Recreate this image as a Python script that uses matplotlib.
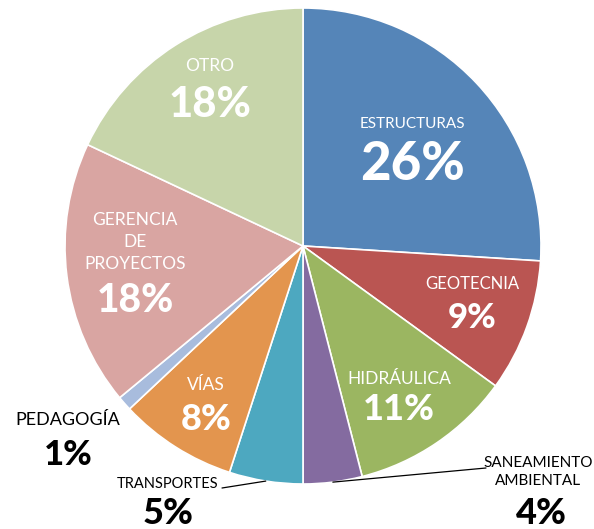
import matplotlib.pyplot as plt
import numpy as np

plt.rcParams['font.family'] = ['Lato', 'DejaVu Sans']

categorias = ['ESTRUCTURAS', 'GEOTECNIA', 'HIDRÁULICA', 'SANEAMIENTO\nAMBIENTAL',
              'TRANSPORTES', 'VÍAS', 'PEDAGOGÍA', 'GERENCIA\nDE\nPROYECTOS', 'OTRO']
porcentajes = [26, 9, 11, 4, 5, 8, 1, 18, 18]
colores = ['#5585B8', '#BA5552', '#9BB661', '#846BA0', '#4DA8C0',
           '#E3954E', '#A8BCDD', '#D9A5A2', '#C7D5AA']

fig = plt.figure(figsize=(5.94, 5.29), dpi=100)
ax = fig.add_axes([65 / 594, (529 - 246 - 238) / 529, 476 / 594, 476 / 529])

wedges, _ = ax.pie(porcentajes, colors=colores, startangle=90, counterclock=False,
                   radius=1, wedgeprops=dict(edgecolor='white', linewidth=1.2))
ax.set_xlim(-1, 1)
ax.set_ylim(-1, 1)
ax.axis('off')


def pos(px, py):
    # pixel position in the figure -> data coords of the pie
    return (px - 303) / 238, (246 - py) / 238


# (name px, name py, pct px, pct py, name size, pct size, colour)
etiquetas = [
    (412, 124, 412, 165, 11, 38, 'white'),
    (472, 284, 472, 318, 12, 25, 'white'),
    (399, 379, 399, 410, 12.5, 26, 'white'),
    (538, 472, 541, 514, 11, 26, 'black'),
    (168, 484, 168, 514, 10.5, 26, 'black'),
    (206, 385, 206, 419, 12.5, 26, 'white'),
    (68, 420, 68, 455, 13, 25, 'black'),
    (135, 242, 135, 300, 12.5, 28, 'white'),
    (210, 66, 210, 105, 12.5, 30, 'white'),
]

for cat, pct, (nx, ny, qx, qy, ns, qs, c) in zip(categorias, porcentajes, etiquetas):
    ax.text(*pos(nx, ny), cat, ha='center', va='center', fontsize=ns,
            color=c, linespacing=1.45)
    ax.text(*pos(qx, qy), f'{pct}%', ha='center', va='center', fontsize=qs,
            color=c, fontweight='black')

# leader lines for the small outside slices
for w, (tx, ty) in [(wedges[3], (486, 468)), (wedges[4], (222, 488))]:
    ang = np.deg2rad((w.theta1 + w.theta2) / 2)
    ax.annotate('', xy=(np.cos(ang), np.sin(ang)), xytext=pos(tx, ty),
                arrowprops=dict(arrowstyle='-', color='black', lw=0.9,
                                shrinkA=0, shrinkB=0))

fig.savefig('out.png', dpi=100)
